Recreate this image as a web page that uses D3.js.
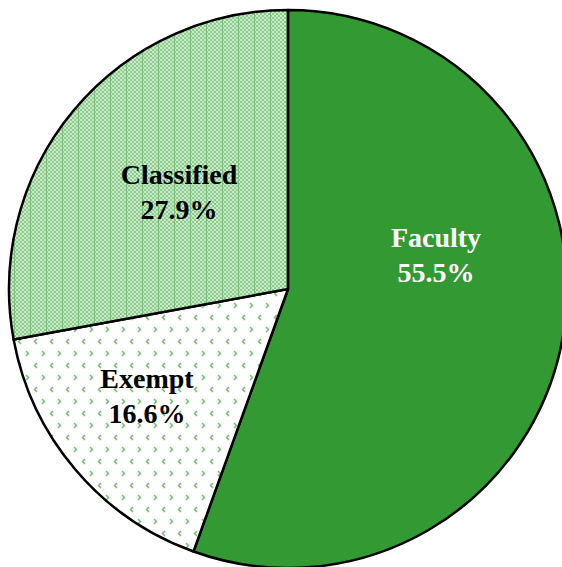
<!DOCTYPE html>
<html><head><meta charset="utf-8">
<script src="https://cdn.jsdelivr.net/npm/d3@7"></script>
<style>html,body{margin:0;padding:0;background:#fff;overflow:hidden}</style>
</head><body>
<svg id="chart" width="562" height="567"></svg>
<script>
const categories = ["Faculty", "Exempt", "Classified"];
const values = [55.5, 16.6, 27.9];
const valueLabels = ["55.5%", "16.6%", "27.9%"];

const svg = d3.select("#chart");
const cx = 288, cy = 289, R = 279;

const defs = svg.append("defs");
// Classified: fine checker pattern
const p1 = defs.append("pattern").attr("id","pClass").attr("patternUnits","userSpaceOnUse")
  .attr("width",16).attr("height",4);
p1.append("rect").attr("width",16).attr("height",4).attr("fill","#cdeacd");
for (let x=0;x<16;x+=4){
  p1.append("rect").attr("x",x).attr("y",0).attr("width",2).attr("height",2).attr("fill","#8acb8a");
  p1.append("rect").attr("x",x+2).attr("y",2).attr("width",2).attr("height",2).attr("fill","#8acb8a");
}
p1.append("rect").attr("x",14).attr("y",0).attr("width",1).attr("height",4).attr("fill","#78c078");

// Exempt: chevron marks on white
const p2 = defs.append("pattern").attr("id","pExempt").attr("patternUnits","userSpaceOnUse")
  .attr("width",16).attr("height",24);
p2.append("rect").attr("width",16).attr("height",24).attr("fill","#ffffff");
p2.append("path").attr("d","M5,2 L2.5,4.5 L5,7").attr("fill","none").attr("stroke","#72c072").attr("stroke-width",1.5);
p2.append("path").attr("d","M10,14 L12.5,16.5 L10,19").attr("fill","none").attr("stroke","#72c072").attr("stroke-width",1.5);

const fills = ["#339933", "url(#pExempt)", "url(#pClass)"];
const textColors = ["#ffffff", "#000000", "#000000"];
const labelAnchors = [[436, 247], [147, 388], [179, 184]];

const pie = d3.pie().sort(null).value(d => d);
const arcs = pie(values);
const arc = d3.arc().innerRadius(0).outerRadius(R);

const g = svg.append("g").attr("transform", `translate(${cx},${cy})`);
g.selectAll("path.slice").data(arcs).join("path")
  .attr("class","slice")
  .attr("d", arc)
  .attr("fill", (d,i) => fills[i])
  .attr("stroke", "#000")
  .attr("stroke-width", 2.5)
  .attr("stroke-linejoin","round");

const labels = svg.append("g");
arcs.forEach((d,i) => {
  const t = labels.append("text")
    .attr("x", labelAnchors[i][0]).attr("y", labelAnchors[i][1])
    .attr("text-anchor","middle")
    .attr("font-family","'Liberation Serif','Times New Roman',serif")
    .attr("font-weight","bold").attr("font-size",28)
    .attr("fill", textColors[i]);
  t.append("tspan").attr("x", labelAnchors[i][0]).text(categories[i]);
  t.append("tspan").attr("x", labelAnchors[i][0]).attr("dy", 35).text(valueLabels[i]);
});
</script>
</body></html>
